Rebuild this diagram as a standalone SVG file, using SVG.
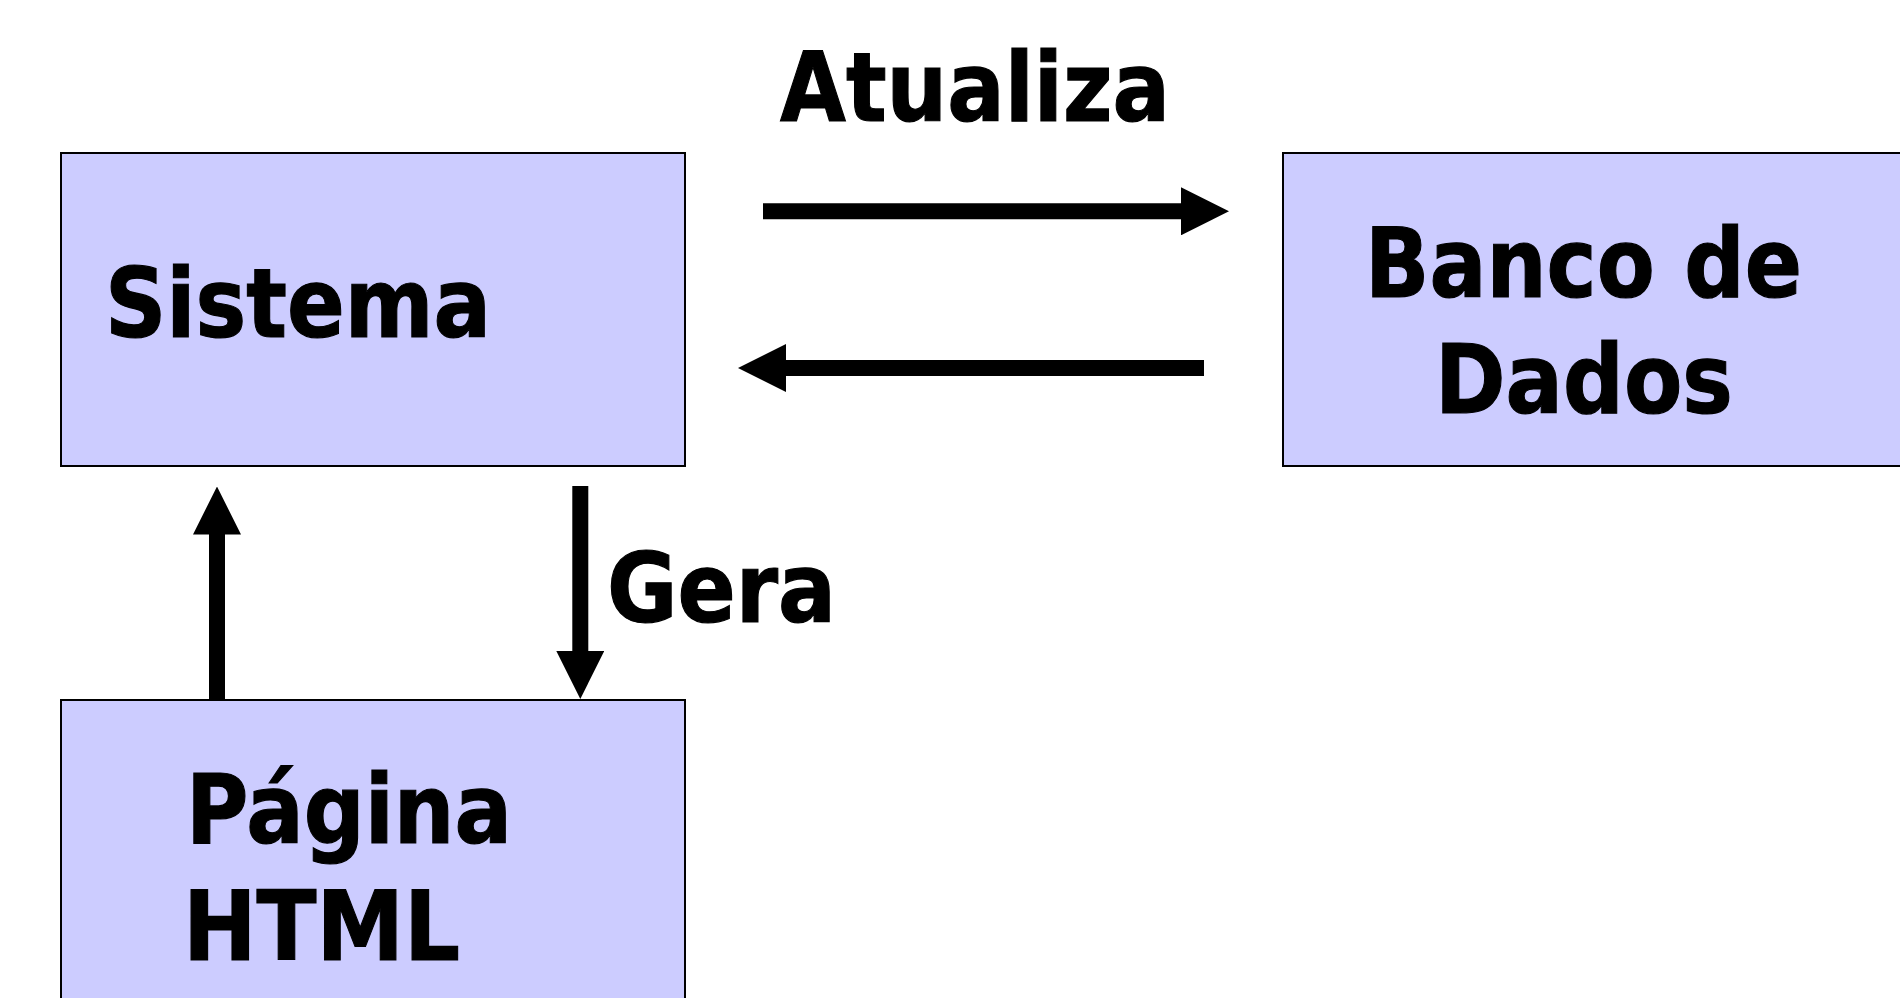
<svg xmlns="http://www.w3.org/2000/svg" width="1900" height="998" viewBox="0 0 1900 998">
  <style>
    .box { fill: #CCCCFF; stroke: #000000; stroke-width: 2; }
    .lbl { font-family: "DejaVu Sans", Verdana, sans-serif; font-weight: bold; font-size: 96px; fill: #000000; stroke: #000000; stroke-width: 1.2; }
    .conn { stroke: #000000; stroke-width: 16; fill: none; }
  </style>
  <defs>
    <marker id="head" markerUnits="userSpaceOnUse" markerWidth="48" markerHeight="48" viewBox="0 0 48 48" refX="1" refY="24" orient="auto">
      <path d="M0,0 L48,24 L0,48 Z" fill="#000000"/>
    </marker>
  </defs>
  <rect width="1900" height="998" fill="#FFFFFF"/>

  <g id="sistema">
    <rect class="box" x="61" y="153" width="624" height="313"/>
    <text class="lbl" x="105" y="337" textLength="386" lengthAdjust="spacingAndGlyphs">Sistema</text>
  </g>

  <g id="banco-de-dados">
    <rect class="box" x="1283" y="153" width="700" height="313"/>
    <text class="lbl" x="1365" y="297" textLength="437" lengthAdjust="spacingAndGlyphs">Banco de</text>
    <text class="lbl" x="1435" y="413" textLength="298" lengthAdjust="spacingAndGlyphs">Dados</text>
  </g>

  <g id="pagina-html">
    <rect class="box" x="61" y="700" width="624" height="400"/>
    <text class="lbl" x="186" y="843" textLength="326" lengthAdjust="spacingAndGlyphs">Página</text>
    <text class="lbl" x="183" y="960" textLength="277" lengthAdjust="spacingAndGlyphs">HTML</text>
  </g>

  <g id="connectors">
    <path class="conn" d="M763,211.3 L1182,211.3" marker-end="url(#head)"/>
    <path class="conn" d="M1204,368 L785,368" marker-end="url(#head)"/>
    <path class="conn" d="M217,700 L217,533.5" marker-end="url(#head)"/>
    <path class="conn" d="M580.3,486 L580.3,652" marker-end="url(#head)"/>
    <text class="lbl" x="780" y="121" textLength="390" lengthAdjust="spacingAndGlyphs">Atualiza</text>
    <text class="lbl" x="607" y="622" textLength="229" lengthAdjust="spacingAndGlyphs">Gera</text>
  </g>
</svg>
